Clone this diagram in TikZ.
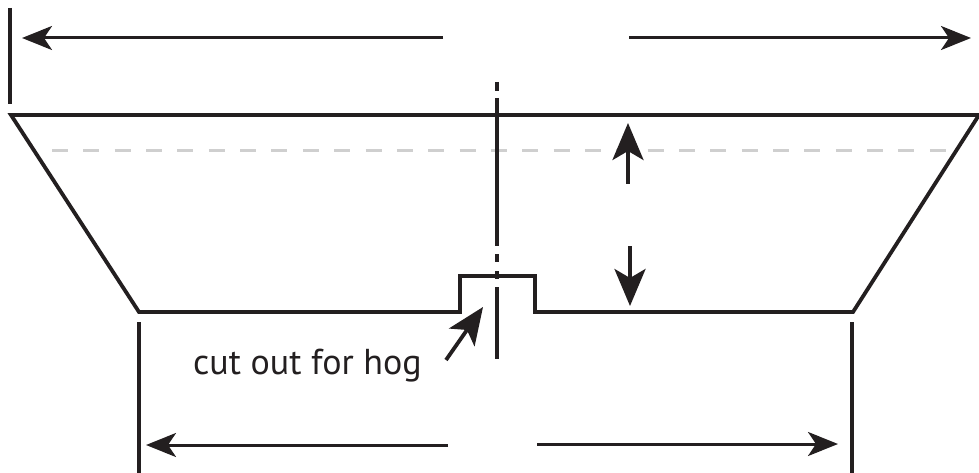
\documentclass[tikz,border=0pt]{standalone}
\usepackage{fontspec}
\setmainfont{PT Sans}
\usetikzlibrary{arrows.meta}
\definecolor{ink}{HTML}{231F20}
\definecolor{dashgray}{HTML}{CFCFCF}
\tikzset{
  x=1pt,y=-1pt,
  outline/.style={draw=ink,line width=3.8pt,line join=miter,miter limit=10},
  tick/.style={draw=ink,line width=3.8pt},
  dimline/.style={draw=ink,line width=3pt,-{Stealth[length=30pt,width=24pt,inset=8pt]}},
  shortarrow/.style={draw=ink,line width=3.8pt,-{Stealth[length=37pt,width=31pt,inset=9pt]}},
  hidden/.style={draw=dashgray,line width=2.2pt,dash pattern=on 16pt off 15.35pt},
  axis/.style={draw=ink,line width=4.2pt},
  label/.style={text=ink,font=\fontsize{36}{40}\selectfont,inner sep=0pt,anchor=base west}
}
\begin{document}
\begin{tikzpicture}
\useasboundingbox (0,0) rectangle (979,473);
\coordinate (wtl) at (10,8);
\coordinate (wtb) at (10,104);
\coordinate (a1s) at (443,38);
\coordinate (a1e) at (22,38);
\coordinate (a2s) at (629,38);
\coordinate (a2e) at (971,38);
\coordinate (c0) at (497,82);
\coordinate (c1) at (497,91);
\coordinate (c2) at (497,98);
\coordinate (c3) at (497,246);
\coordinate (c4) at (497,254);
\coordinate (c5) at (497,262);
\coordinate (c6) at (497,271);
\coordinate (c7) at (497,279);
\coordinate (c8) at (497,287);
\coordinate (c9) at (497,359);
\coordinate (tl) at (11,115);
\coordinate (tr) at (979,115);
\coordinate (bl) at (139,312);
\coordinate (br) at (853,312);
\coordinate (n1) at (460,312);
\coordinate (n2) at (460,276);
\coordinate (n3) at (535,276);
\coordinate (n4) at (535,312);
\coordinate (u1) at (628,184);
\coordinate (u2) at (628,123);
\coordinate (d1) at (630,246);
\coordinate (d2) at (630,306);
\coordinate (h1) at (446,360);
\coordinate (h2) at (483,307);
\coordinate (lb1) at (139,322);
\coordinate (lb2) at (139,473);
\coordinate (rb1) at (852,322);
\coordinate (rb2) at (852,473);
\coordinate (b1s) at (448,445);
\coordinate (b1e) at (146,445);
\coordinate (b2s) at (537,444);
\coordinate (b2e) at (838,444);
\coordinate (ds) at (52,150.5);
\coordinate (de) at (946,150.5);
\draw[hidden] (ds) -- (de);
\draw[outline] (tl) -- (bl) -- (n1) -- (n2) -- (n3) -- (n4) -- (br) -- (tr) -- cycle;
\draw[tick] (wtl) -- (wtb);
\draw[dimline] (a1s) -- (a1e);
\draw[dimline] (a2s) -- (a2e);
\draw[axis] (c0) -- (c1);
\draw[axis] (c2) -- (c3);
\draw[axis] (c4) -- (c5);
\draw[axis] (c6) -- (c7);
\draw[axis] (c8) -- (c9);
\draw[shortarrow] (u1) -- (u2);
\draw[shortarrow] (d1) -- (d2);
\draw[shortarrow] (h1) -- (h2);
\node[label] (cap) at (193,374) {cut out for hog};
\draw[tick] (lb1) -- (lb2);
\draw[tick] (rb1) -- (rb2);
\draw[dimline] (b1s) -- (b1e);
\draw[dimline] (b2s) -- (b2e);
\end{tikzpicture}
\end{document}
